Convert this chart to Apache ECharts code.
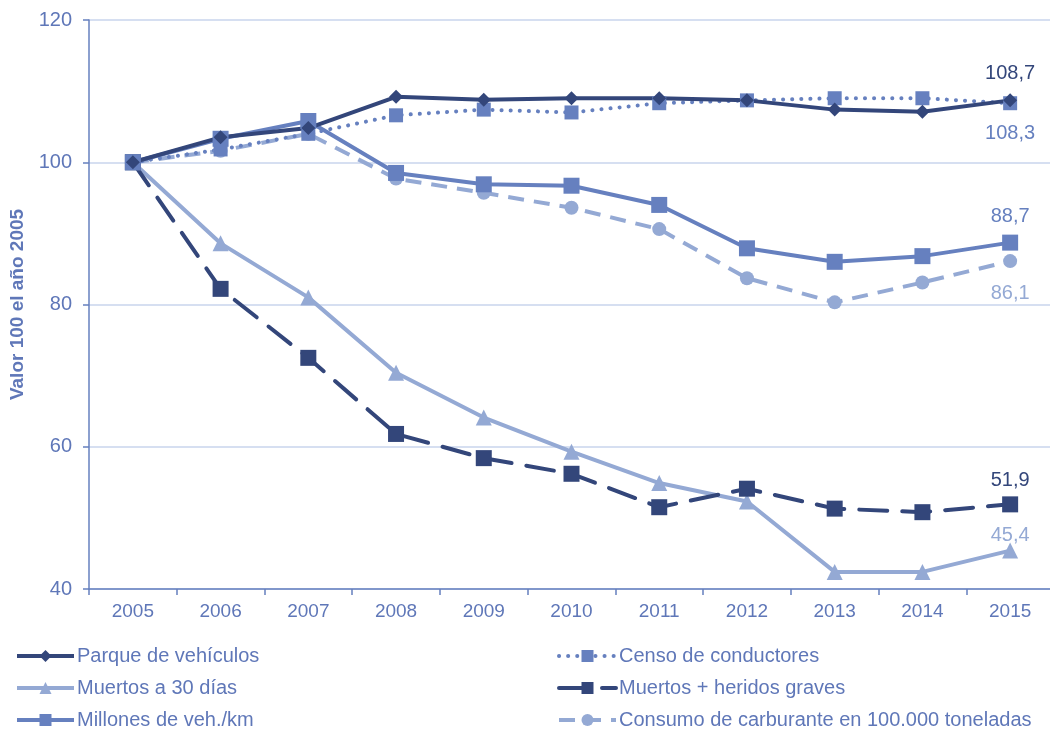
<!DOCTYPE html>
<html><head><meta charset="utf-8">
<script src="https://cdn.jsdelivr.net/npm/echarts@6/dist/echarts.min.js"></script>
<style>html,body{margin:0;padding:0;background:#fff}#c{width:1050px;height:731px}</style>
</head><body><div id="c"></div>
<script>
const years = ['2005','2006','2007','2008','2009','2010','2011','2012','2013','2014','2015'];
const parque = [100,103.5,104.8,109.2,108.8,109.0,109.0,108.7,107.4,107.1,108.7];
const censo = [100,101.8,104.0,106.6,107.4,107.0,108.3,108.7,109.0,109.0,108.3];
const muertos30 = [100,88.6,81.0,70.4,64.1,59.3,54.9,52.3,42.4,42.4,45.4];
const muertosHG = [100,82.2,72.5,61.8,58.4,56.2,51.5,54.1,51.3,50.8,51.9];
const millones = [100,103.3,105.8,98.5,96.9,96.7,94.0,87.9,86.0,86.8,88.7];
const consumo = [100,101.6,104.0,97.7,95.7,93.6,90.6,83.7,80.3,83.1,86.1];
const yTicks = [40,60,80,100,120];

const DARK = '#33467A', MED = '#6680BF', LIGHT = '#94A9D4', TXT = '#5F77B8';
const FONT = 'Liberation Sans';

function endLabel(color, pos, dist) {
  return function(arr) {
    return arr.map((v, i) => i === arr.length - 1 ? {
      value: v,
      label: {show: true, position: pos, distance: dist, color: color, fontSize: 20, fontFamily: FONT,
        formatter: p => String(p.value).replace('.', ',')}
    } : v);
  };
}

const series = [
  {name: 'Muertos a 30 días', data: endLabel(LIGHT, 'top', -3)(muertos30), color: LIGHT, symbol: 'triangle', symbolSize: 16,
   lineStyle: {width: 4, type: 'solid'}},
  {name: 'Muertos + heridos graves', data: endLabel(DARK, 'top', 6)(muertosHG), color: DARK, symbol: 'rect', symbolSize: 16,
   lineStyle: {width: 4, type: [28, 15], cap: 'round'}},
  {name: 'Consumo de carburante en 100.000 toneladas', data: endLabel(LIGHT, 'bottom', 15)(consumo), color: LIGHT, symbol: 'circle', symbolSize: 14,
   lineStyle: {width: 4, type: [16, 10]}},
  {name: 'Millones de veh./km', data: endLabel(MED, 'top', 8)(millones), color: MED, symbol: 'rect', symbolSize: 16,
   lineStyle: {width: 4, type: 'solid'}},
  {name: 'Censo de conductores', data: endLabel(MED, 'bottom', 13)(censo), color: MED, symbol: 'rect', symbolSize: 14,
   lineStyle: {width: 4, type: [0.1, 9], cap: 'round'}},
  {name: 'Parque de vehículos', data: endLabel(DARK, 'top', 10)(parque), color: DARK, symbol: 'diamond', symbolSize: 14,
   lineStyle: {width: 4, type: 'solid'}}
].map(s => Object.assign({type: 'line', showSymbol: true, animation: false, z: 2}, s));

function leg(name, left, top) {
  return {data: [name], left: left, top: top, itemWidth: 57, itemHeight: 15, itemGap: 4,
    lineStyle: {width: 4},
    textStyle: {color: TXT, fontSize: 20, fontFamily: FONT, padding: [0,0,0,-2]}, selectedMode: false};
}

const chart = echarts.init(document.getElementById('c'), null, {renderer: 'canvas'});
chart.setOption({
  animation: false,
  textStyle: {fontFamily: FONT},
  grid: {left: 89, right: -4, top: 20, bottom: 142, containLabel: false, outerBoundsMode: 'none'},
  legend: [
    leg('Parque de vehículos', 10, 641),
    leg('Muertos a 30 días', 10, 673),
    leg('Millones de veh./km', 10, 705),
    leg('Censo de conductores', 552, 641),
    leg('Muertos + heridos graves', 552, 673),
    leg('Consumo de carburante en 100.000 toneladas', 552, 705)
  ],
  xAxis: {type: 'category', data: years, boundaryGap: true,
    axisLine: {lineStyle: {color: MED, width: 1.5}},
    axisTick: {show: true, length: 6, inside: false, lineStyle: {color: MED, width: 1.5}},
    axisLabel: {color: TXT, fontSize: 19, margin: 13, fontFamily: FONT}},
  yAxis: {type: 'value', min: 40, max: 120, interval: 20,
    name: 'Valor 100 el año 2005', nameLocation: 'middle', nameGap: 56, nameRotate: 90,
    nameTextStyle: {color: TXT, fontSize: 19, fontWeight: 'bold', fontFamily: FONT},
    axisLine: {show: true, lineStyle: {color: MED, width: 1.5}},
    axisTick: {show: true, length: 6, lineStyle: {color: MED, width: 1.5}},
    axisLabel: {color: TXT, fontSize: 20, margin: 17, fontFamily: FONT,
      formatter: v => yTicks.includes(v) ? String(v) : ''},
    splitLine: {show: true, lineStyle: {color: '#C9D4EC', width: 1.5}}},
  series: series
});
</script>
</body></html>
